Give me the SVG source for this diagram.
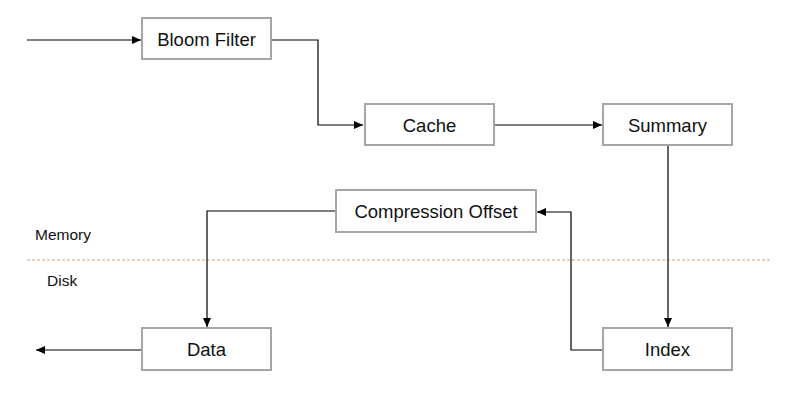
<svg xmlns="http://www.w3.org/2000/svg" width="794" height="401" viewBox="0 0 794 401">
<style>
.box{fill:#fff;stroke:#a6a6a6;stroke-width:2}
.lbl{font-family:"Liberation Sans",Arial,sans-serif;font-size:18.5px;fill:#111;text-anchor:middle;dominant-baseline:central}
.side{font-family:"Liberation Sans",Arial,sans-serif;font-size:15.5px;fill:#111}
.con{fill:none;stroke:#000;stroke-width:1.2}
</style>
<defs>
<marker id="ah" markerWidth="10" markerHeight="10" refX="9" refY="5" orient="auto" markerUnits="userSpaceOnUse">
<path d="M0,1 L9,5 L0,9 Z" fill="#000"/>
</marker>
</defs>
<rect width="794" height="401" fill="#fff"/>
<line x1="27" y1="260" x2="772" y2="260" stroke="#c9a58e" stroke-width="1.2" stroke-dasharray="3,2"/>
<text class="side" x="35" y="240">Memory</text>
<text class="side" x="47" y="286">Disk</text>
<g id="connectors">
<path class="con" d="M27,40 H141" marker-end="url(#ah)"/>
<path class="con" d="M271,40 H318 V125 H363" marker-end="url(#ah)"/>
<path class="con" d="M494,125 H602" marker-end="url(#ah)"/>
<path class="con" d="M668,146 V327" marker-end="url(#ah)"/>
<path class="con" d="M603,350 H571 V212 H537" marker-end="url(#ah)"/>
<path class="con" d="M336,211 H207 V327" marker-end="url(#ah)"/>
<path class="con" d="M142,350 H36" marker-end="url(#ah)"/>
</g>
<g id="bloom"><rect class="box" x="142" y="18" width="129" height="41"/><text class="lbl" x="206.5" y="39">Bloom Filter</text></g>
<g id="cache"><rect class="box" x="365" y="104" width="129" height="41"/><text class="lbl" x="429.5" y="125">Cache</text></g>
<g id="summary"><rect class="box" x="603" y="104" width="129" height="41"/><text class="lbl" x="667.5" y="125">Summary</text></g>
<g id="compression"><rect class="box" x="336" y="190" width="200" height="42"/><text class="lbl" x="436" y="211">Compression Offset</text></g>
<g id="data"><rect class="box" x="142" y="328" width="129" height="42"/><text class="lbl" x="206.5" y="349">Data</text></g>
<g id="index"><rect class="box" x="603" y="328" width="129" height="42"/><text class="lbl" x="667.5" y="349">Index</text></g>
</svg>
